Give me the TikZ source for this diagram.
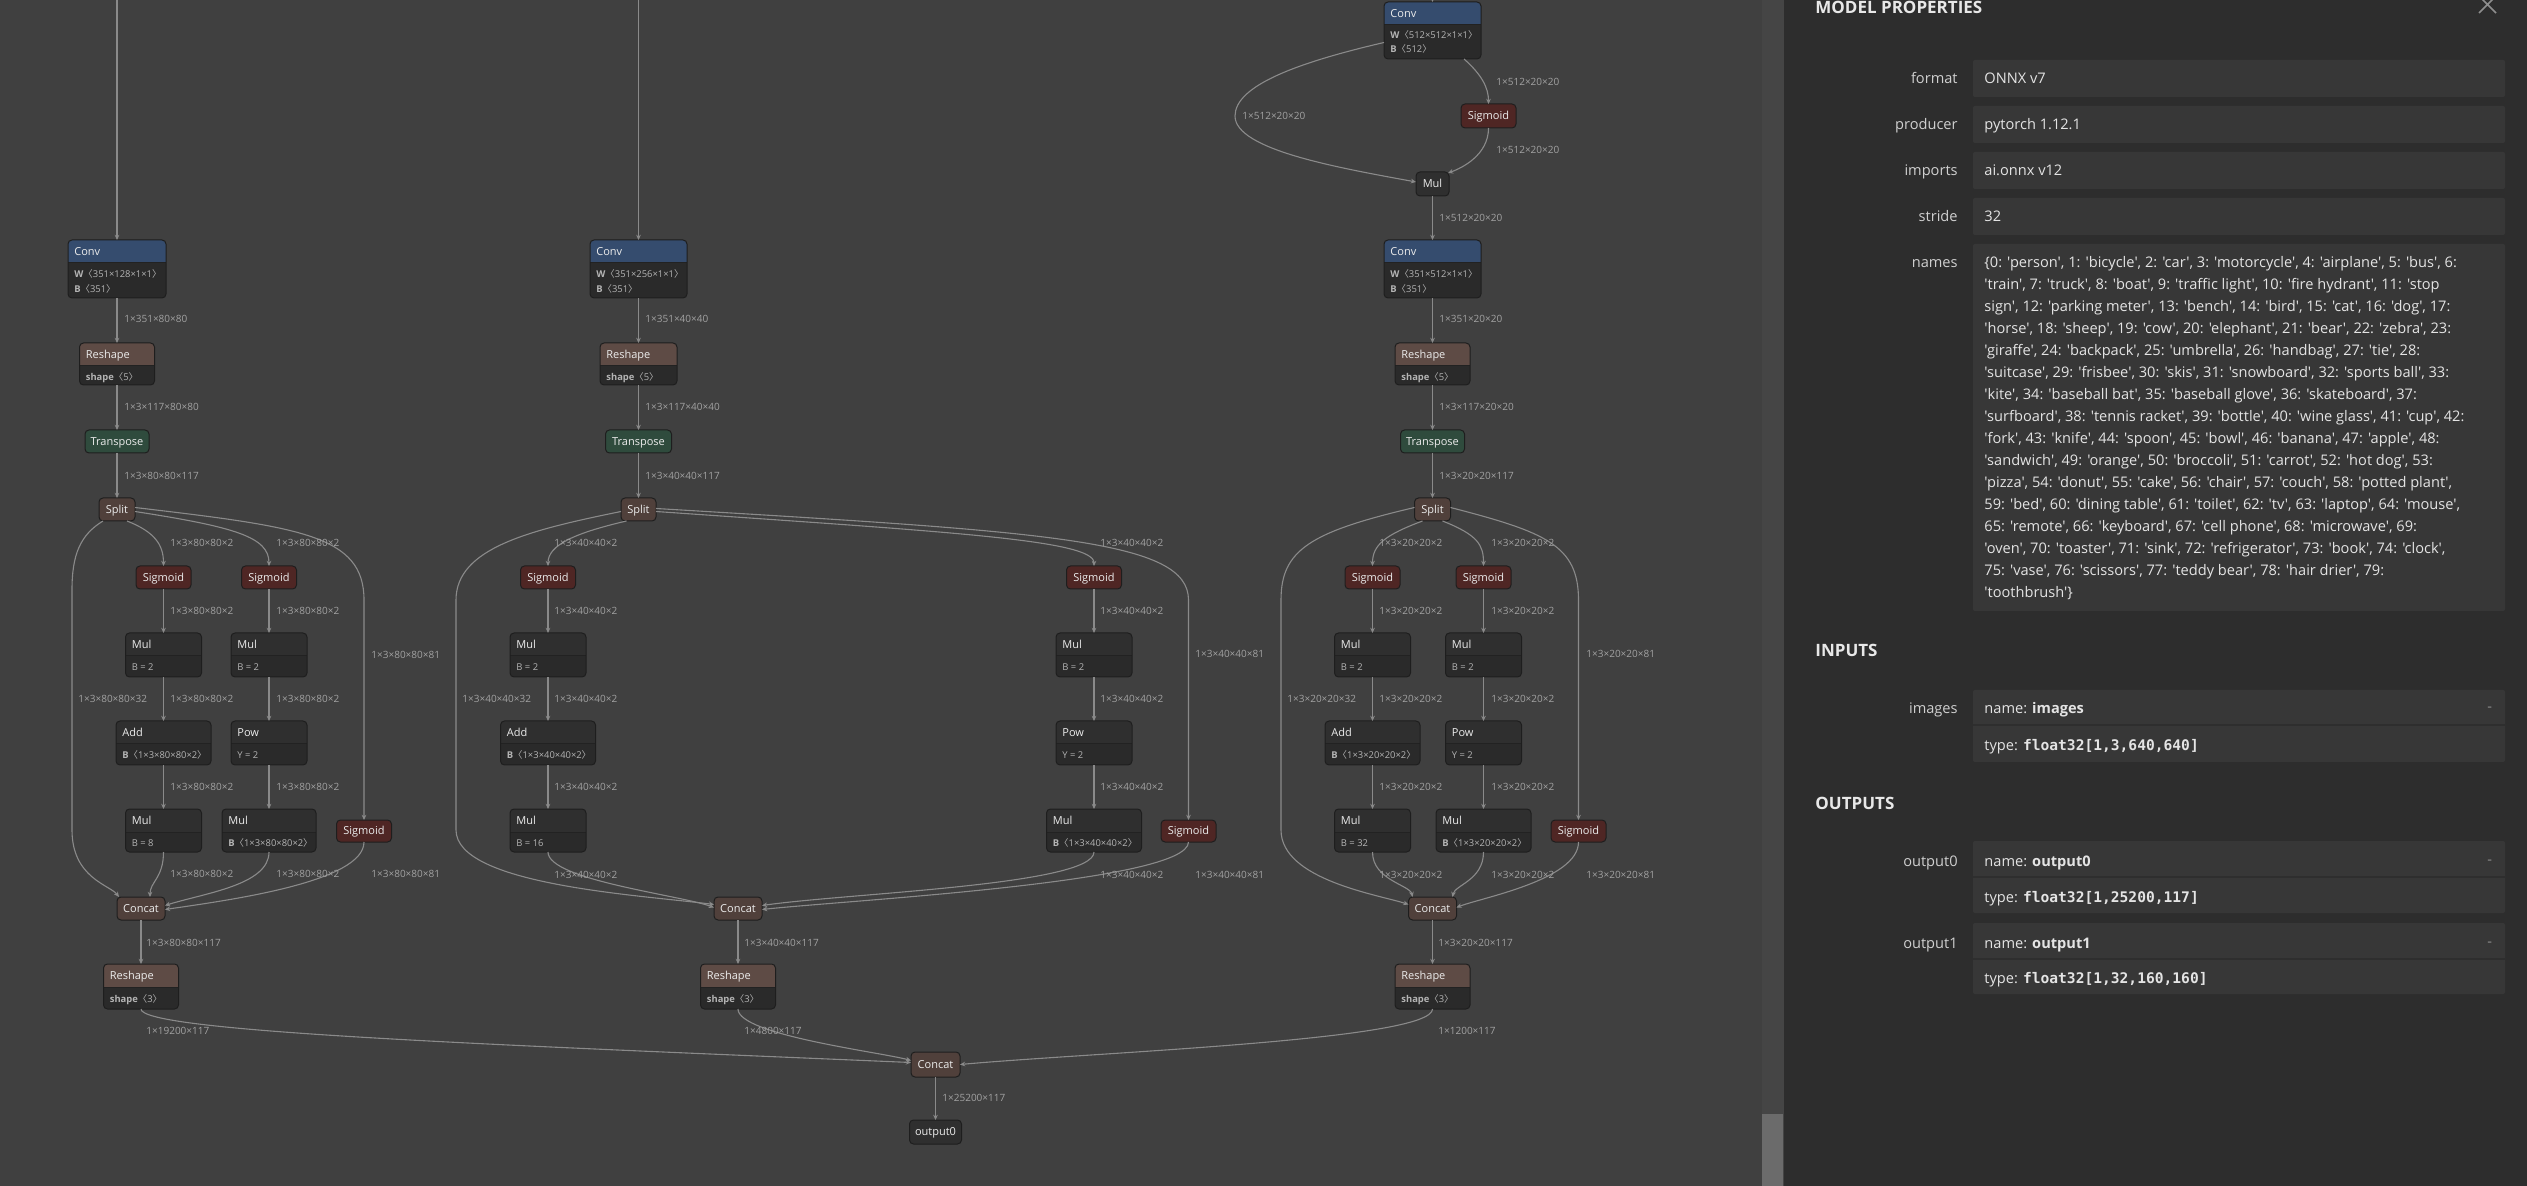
\documentclass[tikz,border=0pt]{standalone}
\usepackage{fontspec}
\setmainfont{Open Sans}[Ligatures=TeXOff]
\newfontfamily\cjkf{Noto Sans CJK SC}
\newfontfamily\monof{DejaVu Sans Mono}
\usetikzlibrary{arrows.meta,calc}

\definecolor{graphbg}{HTML}{404040}
\definecolor{trackc}{HTML}{454545}
\definecolor{thumbc}{HTML}{6B6B6B}
\definecolor{panelbg}{HTML}{2D2D2D}
\definecolor{boxc}{HTML}{373737}
\definecolor{boxdiv}{HTML}{2E2E2E}
\definecolor{edgec}{HTML}{8A8A8A}
\definecolor{lblc}{HTML}{A2A2A2}
\definecolor{nodeborder}{HTML}{1E1E1E}
\definecolor{bodyc}{HTML}{2A2A2A}
\definecolor{mulhdr}{HTML}{2F2F2F}
\definecolor{divc}{HTML}{222222}
\definecolor{convc}{HTML}{354C6E}
\definecolor{reshc}{HTML}{5E4B45}
\definecolor{splitc}{HTML}{50403B}
\definecolor{sigc}{HTML}{4F2624}
\definecolor{transc}{HTML}{2F4B3D}
\definecolor{titlec}{HTML}{ECECEC}
\definecolor{attrc}{HTML}{B4B4B4}
\definecolor{plabelc}{HTML}{D0D0D0}
\definecolor{pvalc}{HTML}{E4E4E4}
\definecolor{pheadc}{HTML}{E8E8E8}
\definecolor{closec}{HTML}{8E8E8E}

\newcommand{\angl}{{\cjkf 〈}}
\newcommand{\angr}{{\cjkf 〉}}
\newcommand{\ttfnt}{\fontsize{5.5}{6.5}\selectfont}
\newcommand{\atfnt}{\fontsize{4.7}{7.5}\selectfont}
\newcommand{\elfnt}{\fontsize{5}{6}\selectfont}
\newcommand{\pfnt}{\fontsize{7.3}{11}\selectfont}
\newcommand{\phfnt}{\fontsize{8.5}{10}\selectfont\bfseries}

\tikzset{
  edge/.style={draw=edgec, line width=0.55pt, -{Stealth[length=2.6pt,width=2.3pt]}},
  opbox/.style={inner sep=0pt, outer sep=0pt},
  snode/.style={draw=nodeborder, line width=0.5pt, rounded corners=2pt, inner sep=0pt, outer sep=0pt, text=titlec, font=\ttfnt, text height=3.9pt, text depth=0pt},
  ttext/.style={inner sep=0pt, text=titlec, font=\ttfnt, text height=3.9pt, text depth=0pt},
  atext/.style={anchor=west, inner sep=0pt, text=attrc, font=\atfnt, text height=3.4pt, text depth=0pt},
  elabel/.style={anchor=west, inner sep=0pt, text=lblc, font=\elfnt, text height=3.6pt, text depth=0pt},
  plab/.style={anchor=base east, inner sep=0pt, text=plabelc, font=\pfnt},
  pval/.style={anchor=base west, inner sep=0pt, text=pvalc, font=\pfnt},
  phead/.style={anchor=base west, inner sep=0pt, text=pheadc, font=\phfnt},
}

% name, cx, top, width, height, header colour, title, attr y offset, attr
\newcommand{\opnode}[9]{%
  \node[opbox, minimum width=#4*0.5pt, minimum height=#5*0.5pt, anchor=north] (#1) at (#2,#3) {};
  \begin{scope}
    \clip[rounded corners=2pt] (#1.south west) rectangle (#1.north east);
    \fill[bodyc] (#1.south west) rectangle (#1.north east);
    \fill[#6] (#1.north west) rectangle ($(#1.north east)+(0,23)$);
    \draw[divc, line width=0.5pt] ($(#1.north west)+(0,23)$) -- ($(#1.north east)+(0,23)$);
  \end{scope}
  \draw[nodeborder, line width=0.5pt, rounded corners=2pt] (#1.south west) rectangle (#1.north east);
  \node[ttext, anchor=west] (#1t) at ($(#1.north west)+(6,11.5)$) {#7};
  \node[atext] (#1a) at ($(#1.north west)+(6,#8)$) {#9};
}
% name, cx, top, width, height, colour, text
\newcommand{\snode}[7]{%
  \node[snode, fill=#6, minimum width=#4*0.5pt, minimum height=#5*0.5pt, anchor=north] (#1) at (#2,#3) {#7};
}
\newcounter{elc}
\newcommand{\elbl}[3]{\stepcounter{elc}\node[elabel] (el\theelc) at (#1,#2) {#3};}

\begin{document}
\begin{tikzpicture}[x=0.5pt, y=-0.5pt]
\useasboundingbox (0,0) rectangle (2527,1186);
\fill[graphbg] (0,0) rectangle (2527,1186);

% ================= column A (80x80) =================
\opnode{convA}{117}{240}{98}{58}{convc}{Conv}{34}{\textbf{W}\angl 351×128×1×1\angr}
\node[atext] (convAb) at ($(convA.north west)+(6,49)$) {\textbf{B}\angl 351\angr};
\opnode{rshA}{117}{343}{75}{42}{reshc}{Reshape}{34}{\textbf{shape}\angl 5\angr}
\snode{trA}{117}{430}{64}{23}{transc}{Transpose}
\snode{spA}{117}{498}{36}{23}{splitc}{Split}
\snode{sgA1}{163.5}{566}{55}{23}{sigc}{Sigmoid}
\snode{sgA2}{269}{566}{55}{23}{sigc}{Sigmoid}
\opnode{mulA1}{163.5}{633}{76}{44}{mulhdr}{Mul}{34}{B = 2}
\opnode{mulA2}{269}{633}{76}{44}{mulhdr}{Mul}{34}{B = 2}
\opnode{addA}{163.5}{721}{95}{44}{mulhdr}{Add}{34}{\textbf{B}\angl 1×3×80×80×2\angr}
\opnode{powA}{269}{721}{76}{44}{mulhdr}{Pow}{34}{Y = 2}
\opnode{mulA3}{163.5}{809}{76}{43}{mulhdr}{Mul}{34}{B = 8}
\opnode{mulA4}{269}{809}{94}{43}{mulhdr}{Mul}{34}{\textbf{B}\angl 1×3×80×80×2\angr}
\snode{sgA3}{364}{820}{55}{22}{sigc}{Sigmoid}
\snode{catA}{141}{897}{48}{23}{splitc}{Concat}
\opnode{rshA2}{141}{964}{75}{45}{reshc}{Reshape}{35}{\textbf{shape}\angl 3\angr}

% ================= column B (40x40) =================
\opnode{convB}{638.5}{240}{97}{58}{convc}{Conv}{34}{\textbf{W}\angl 351×256×1×1\angr}
\node[atext] (convBb) at ($(convB.north west)+(6,49)$) {\textbf{B}\angl 351\angr};
\opnode{rshB}{638.5}{343}{77}{42}{reshc}{Reshape}{34}{\textbf{shape}\angl 5\angr}
\snode{trB}{638.5}{430}{66}{23}{transc}{Transpose}
\snode{spB}{638.5}{498}{35}{23}{splitc}{Split}
\snode{sgB1}{548}{566}{55}{23}{sigc}{Sigmoid}
\snode{sgB2}{1094}{566}{55}{23}{sigc}{Sigmoid}
\opnode{mulB1}{548}{633}{76}{44}{mulhdr}{Mul}{34}{B = 2}
\opnode{mulB2}{1094}{633}{76}{44}{mulhdr}{Mul}{34}{B = 2}
\opnode{addB}{548}{721}{95}{44}{mulhdr}{Add}{34}{\textbf{B}\angl 1×3×40×40×2\angr}
\opnode{powB}{1094}{721}{76}{44}{mulhdr}{Pow}{34}{Y = 2}
\opnode{mulB3}{548}{809}{76}{43}{mulhdr}{Mul}{34}{B = 16}
\opnode{mulB4}{1094}{809}{95}{43}{mulhdr}{Mul}{34}{\textbf{B}\angl 1×3×40×40×2\angr}
\snode{sgB3}{1188.5}{820}{55}{22}{sigc}{Sigmoid}
\snode{catB}{738}{897}{48}{23}{splitc}{Concat}
\opnode{rshB2}{738}{964}{75}{45}{reshc}{Reshape}{35}{\textbf{shape}\angl 3\angr}

% ================= column C (20x20) =================
\opnode{convC0}{1432.5}{2}{97}{57}{convc}{Conv}{33}{\textbf{W}\angl 512×512×1×1\angr}
\node[atext] (convC0b) at ($(convC0.north west)+(6,47)$) {\textbf{B}\angl 512\angr};
\snode{sgC0}{1488.5}{104}{55}{24}{sigc}{Sigmoid}
\snode{mulC0}{1432.5}{172}{33}{24}{mulhdr}{Mul}
\opnode{convC}{1432.5}{240}{97}{58}{convc}{Conv}{34}{\textbf{W}\angl 351×512×1×1\angr}
\node[atext] (convCb) at ($(convC.north west)+(6,49)$) {\textbf{B}\angl 351\angr};
\opnode{rshC}{1432.5}{343}{75}{42}{reshc}{Reshape}{34}{\textbf{shape}\angl 5\angr}
\snode{trC}{1432.5}{430}{64}{23}{transc}{Transpose}
\snode{spC}{1432.5}{498}{36}{23}{splitc}{Split}
\snode{sgC1}{1372.5}{566}{55}{23}{sigc}{Sigmoid}
\snode{sgC2}{1483.5}{566}{55}{23}{sigc}{Sigmoid}
\opnode{mulC1}{1372.5}{633}{76}{44}{mulhdr}{Mul}{34}{B = 2}
\opnode{mulC2}{1483.5}{633}{76}{44}{mulhdr}{Mul}{34}{B = 2}
\opnode{addC}{1372.5}{721}{95}{44}{mulhdr}{Add}{34}{\textbf{B}\angl 1×3×20×20×2\angr}
\opnode{powC}{1483.5}{721}{76}{44}{mulhdr}{Pow}{34}{Y = 2}
\opnode{mulC3}{1372.5}{809}{76}{43}{mulhdr}{Mul}{34}{B = 32}
\opnode{mulC4}{1483.5}{809}{95}{43}{mulhdr}{Mul}{34}{\textbf{B}\angl 1×3×20×20×2\angr}
\snode{sgC3}{1578.5}{820}{55}{22}{sigc}{Sigmoid}
\snode{catC}{1432.5}{897}{48}{23}{splitc}{Concat}
\opnode{rshC2}{1432.5}{964}{75}{45}{reshc}{Reshape}{35}{\textbf{shape}\angl 3\angr}

% ================= final =================
\snode{fc}{935.5}{1052}{49}{25}{splitc}{Concat}
\snode{out0}{935.5}{1120}{52}{24}{mulhdr}{output0}

% ================= edges column A =================
\coordinate (topA) at (117,-6);
\draw[edge] (topA) -- (convA.north);
\draw[edge] (convA.south) -- (rshA.north);
\draw[edge] (rshA.south) -- (trA.north);
\draw[edge] (trA.south) -- (spA.north);
\draw[edge] ($(spA.south)+(10,0)$) .. controls (155,532) and (163.5,545) .. (sgA1.north);
\draw[edge] ($(spA.east)+(0,2)$) .. controls (235,527) and (269,537) .. (sgA2.north);
\draw[edge] ($(spA.east)+(0,-2)$) .. controls (300,527) and (364,535) .. (364,600) -- (sgA3.north);
\draw[edge] ($(spA.south west)+(4,0)$) .. controls (80,535) and (72,555) .. (72,590) -- (72,830) .. controls (72,878) and (110,885) .. ($(catA.north west)+(2,0)$);
\draw[edge] (sgA1.south) -- (mulA1.north);
\draw[edge] (mulA1.south) -- (addA.north);
\draw[edge] (addA.south) -- (mulA3.north);
\draw[edge] (sgA2.south) -- (mulA2.north);
\draw[edge] (mulA2.south) -- (powA.north);
\draw[edge] (powA.south) -- (mulA4.north);
\draw[edge] (mulA3.south) .. controls (163.5,878) and (150,882) .. ($(catA.north)+(9,0)$);
\draw[edge] (mulA4.south) .. controls (269,885) and (205,893) .. ($(catA.east)+(0,-3)$);
\draw[edge] (sgA3.south) .. controls (364,882) and (230,900) .. ($(catA.east)+(0,1)$);
\draw[edge] (catA.south) -- (rshA2.north);
\draw[edge] (rshA2.south) .. controls (141,1032) and (500,1045) .. ($(fc.west)+(0,-2)$);

% ================= edges column B =================
\coordinate (topB) at (638.5,-6);
\draw[edge] (topB) -- (convB.north);
\draw[edge] (convB.south) -- (rshB.north);
\draw[edge] (rshB.south) -- (trB.north);
\draw[edge] (trB.south) -- (spB.north);
\draw[edge] ($(spB.south)+(-12,0)$) .. controls (575,533) and (548,545) .. (sgB1.north);
\draw[edge] ($(spB.east)+(0,2)$) .. controls (950,532) and (1094,540) .. (sgB2.north);
\draw[edge] ($(spB.east)+(0,-1)$) .. controls (1050,532) and (1188.5,540) .. (1188.5,600) -- (sgB3.north);
\draw[edge] ($(spB.west)+(0,2)$) .. controls (530,530) and (456,548) .. (456,600) -- (456,830) .. controls (456,885) and (640,895) .. ($(catB.west)+(0,-4)$);
\draw[edge] (sgB1.south) -- (mulB1.north);
\draw[edge] (mulB1.south) -- (addB.north);
\draw[edge] (addB.south) -- (mulB3.north);
\draw[edge] (sgB2.south) -- (mulB2.north);
\draw[edge] (mulB2.south) -- (powB.north);
\draw[edge] (powB.south) -- (mulB4.north);
\draw[edge] (mulB3.south) .. controls (548,880) and (680,895) .. ($(catB.west)+(0,-1)$);
\draw[edge] (mulB4.south) .. controls (1094,885) and (850,893) .. ($(catB.east)+(0,-3)$);
\draw[edge] (sgB3.south) .. controls (1188.5,882) and (850,900) .. ($(catB.east)+(0,1)$);
\draw[edge] (catB.south) -- (rshB2.north);
\draw[edge] (rshB2.south) .. controls (738,1035) and (880,1052) .. ($(fc.west)+(0,-4)$);

% ================= edges column C =================
\coordinate (topC) at (1432.5,-8);
\draw[edge] (topC) -- (convC0.north);
\draw[edge] ($(convC0.south east)+(-17,0)$) .. controls (1482,75) and (1488.5,88) .. (sgC0.north);
\draw[edge] ($(convC0.west)+(0,12)$) .. controls (1300,62) and (1235,85) .. (1235,116) .. controls (1235,150) and (1340,168) .. ($(mulC0.west)+(0,-2)$);
\draw[edge] (sgC0.south) .. controls (1488.5,155) and (1462,168) .. ($(mulC0.north east)+(-1,1)$);
\draw[edge] (mulC0.south) -- (convC.north);
\draw[edge] (convC.south) -- (rshC.north);
\draw[edge] (rshC.south) -- (trC.north);
\draw[edge] (trC.south) -- (spC.north);
\draw[edge] ($(spC.south)+(-10,0)$) .. controls (1385,535) and (1372.5,545) .. (sgC1.north);
\draw[edge] ($(spC.south)+(10,0)$) .. controls (1478,535) and (1483.5,545) .. (sgC2.north);
\draw[edge] ($(spC.east)+(0,-2)$) .. controls (1545,532) and (1578.5,545) .. (1578.5,600) -- (sgC3.north);
\draw[edge] ($(spC.west)+(0,-2)$) .. controls (1310,532) and (1281,550) .. (1281,600) -- (1281,830) .. controls (1281,880) and (1380,895) .. ($(catC.west)+(0,-4)$);
\draw[edge] (sgC1.south) -- (mulC1.north);
\draw[edge] (mulC1.south) -- (addC.north);
\draw[edge] (addC.south) -- (mulC3.north);
\draw[edge] (sgC2.south) -- (mulC2.north);
\draw[edge] (mulC2.south) -- (powC.north);
\draw[edge] (powC.south) -- (mulC4.north);
\draw[edge] (mulC3.south) .. controls (1372.5,880) and (1410,885) .. ($(catC.north west)+(4,0)$);
\draw[edge] (mulC4.south) .. controls (1483.5,880) and (1455,885) .. ($(catC.north east)+(-4,0)$);
\draw[edge] (sgC3.south) .. controls (1578.5,880) and (1480,898) .. ($(catC.east)+(0,-1)$);
\draw[edge] (catC.south) -- (rshC2.north);
\draw[edge] (rshC2.south) .. controls (1432.5,1040) and (1100,1052) .. (fc.east);
\draw[edge] (fc.south) -- (out0.north);

% ================= edge labels =================
\elbl{124}{319}{1×351×80×80}
\elbl{124}{407}{1×3×117×80×80}
\elbl{124}{476}{1×3×80×80×117}
\elbl{170}{543}{1×3×80×80×2}
\elbl{276}{543}{1×3×80×80×2}
\elbl{170}{611}{1×3×80×80×2}
\elbl{276}{611}{1×3×80×80×2}
\elbl{371}{655}{1×3×80×80×81}
\elbl{78}{699}{1×3×80×80×32}
\elbl{170}{699}{1×3×80×80×2}
\elbl{276}{699}{1×3×80×80×2}
\elbl{170}{787}{1×3×80×80×2}
\elbl{276}{787}{1×3×80×80×2}
\elbl{170}{874}{1×3×80×80×2}
\elbl{276}{874}{1×3×80×80×2}
\elbl{371}{874}{1×3×80×80×81}
\elbl{146}{943}{1×3×80×80×117}
\elbl{146}{1031}{1×19200×117}

\elbl{645}{319}{1×351×40×40}
\elbl{645}{407}{1×3×117×40×40}
\elbl{645}{476}{1×3×40×40×117}
\elbl{554}{543}{1×3×40×40×2}
\elbl{1100}{543}{1×3×40×40×2}
\elbl{554}{611}{1×3×40×40×2}
\elbl{1100}{611}{1×3×40×40×2}
\elbl{1195}{654}{1×3×40×40×81}
\elbl{462}{699}{1×3×40×40×32}
\elbl{554}{699}{1×3×40×40×2}
\elbl{1100}{699}{1×3×40×40×2}
\elbl{554}{787}{1×3×40×40×2}
\elbl{1100}{787}{1×3×40×40×2}
\elbl{554}{875}{1×3×40×40×2}
\elbl{1100}{875}{1×3×40×40×2}
\elbl{1195}{875}{1×3×40×40×81}
\elbl{744}{943}{1×3×40×40×117}
\elbl{744}{1031}{1×4800×117}

\elbl{1496}{82}{1×512×20×20}
\elbl{1242}{116}{1×512×20×20}
\elbl{1496}{150}{1×512×20×20}
\elbl{1439}{218}{1×512×20×20}
\elbl{1439}{319}{1×351×20×20}
\elbl{1439}{407}{1×3×117×20×20}
\elbl{1439}{476}{1×3×20×20×117}
\elbl{1379}{543}{1×3×20×20×2}
\elbl{1491}{543}{1×3×20×20×2}
\elbl{1379}{611}{1×3×20×20×2}
\elbl{1491}{611}{1×3×20×20×2}
\elbl{1586}{654}{1×3×20×20×81}
\elbl{1287}{699}{1×3×20×20×32}
\elbl{1379}{699}{1×3×20×20×2}
\elbl{1491}{699}{1×3×20×20×2}
\elbl{1379}{787}{1×3×20×20×2}
\elbl{1491}{787}{1×3×20×20×2}
\elbl{1379}{875}{1×3×20×20×2}
\elbl{1491}{875}{1×3×20×20×2}
\elbl{1586}{875}{1×3×20×20×81}
\elbl{1438}{943}{1×3×20×20×117}
\elbl{1438}{1031}{1×1200×117}
\elbl{942}{1098}{1×25200×117}

% ================= properties panel =================
\fill[trackc] (1762,0) rectangle (1784,1186);
\fill[thumbc] (1762,1114) rectangle (1783,1186);
\fill[panelbg] (1784,0) rectangle (2527,1186);
\draw[closec, line width=0.8pt] (2479,-4) -- (2496,13) (2496,-4) -- (2479,13);

\node[phead] (hmp) at (1815,14) {MODEL PROPERTIES};
\fill[boxc, rounded corners=1pt] (1973,60) rectangle (2505,97);
\fill[boxc, rounded corners=1pt] (1973,106) rectangle (2505,143);
\fill[boxc, rounded corners=1pt] (1973,152) rectangle (2505,189);
\fill[boxc, rounded corners=1pt] (1973,198) rectangle (2505,235);
\fill[boxc, rounded corners=1pt] (1973,244) rectangle (2505,611);
\node[plab] (plf) at (1958,84) {format};
\node[pval] (pvf) at (1984,84) {ONNX v7};
\node[plab] (plp) at (1958,130) {producer};
\node[pval] (pvp) at (1984,130) {pytorch 1.12.1};
\node[plab] (pli) at (1958,176) {imports};
\node[pval] (pvi) at (1984,176) {ai.onnx v12};
\node[plab] (pls) at (1958,222) {stride};
\node[pval] (pvs) at (1984,222) {32};
\node[plab] (pln) at (1958,268) {names};
\foreach \ln [count=\i] in {%
 {\{0: 'person', 1: 'bicycle', 2: 'car', 3: 'motorcycle', 4: 'airplane', 5: 'bus', 6:},
 {'train', 7: 'truck', 8: 'boat', 9: 'traffic light', 10: 'fire hydrant', 11: 'stop},
 {sign', 12: 'parking meter', 13: 'bench', 14: 'bird', 15: 'cat', 16: 'dog', 17:},
 {'horse', 18: 'sheep', 19: 'cow', 20: 'elephant', 21: 'bear', 22: 'zebra', 23:},
 {'giraffe', 24: 'backpack', 25: 'umbrella', 26: 'handbag', 27: 'tie', 28:},
 {'suitcase', 29: 'frisbee', 30: 'skis', 31: 'snowboard', 32: 'sports ball', 33:},
 {'kite', 34: 'baseball bat', 35: 'baseball glove', 36: 'skateboard', 37:},
 {'surfboard', 38: 'tennis racket', 39: 'bottle', 40: 'wine glass', 41: 'cup', 42:},
 {'fork', 43: 'knife', 44: 'spoon', 45: 'bowl', 46: 'banana', 47: 'apple', 48:},
 {'sandwich', 49: 'orange', 50: 'broccoli', 51: 'carrot', 52: 'hot dog', 53:},
 {'pizza', 54: 'donut', 55: 'cake', 56: 'chair', 57: 'couch', 58: 'potted plant',},
 {59: 'bed', 60: 'dining table', 61: 'toilet', 62: 'tv', 63: 'laptop', 64: 'mouse',},
 {65: 'remote', 66: 'keyboard', 67: 'cell phone', 68: 'microwave', 69:},
 {'oven', 70: 'toaster', 71: 'sink', 72: 'refrigerator', 73: 'book', 74: 'clock',},
 {75: 'vase', 76: 'scissors', 77: 'teddy bear', 78: 'hair drier', 79:},
 {'toothbrush'\}}%
}{\node[pval] (nm\i) at (1984,246+22*\i) {\ln};}

\node[phead] (hin) at (1815,657) {INPUTS};
\fill[boxc, rounded corners=1pt] (1973,690) rectangle (2505,762);
\draw[boxdiv, line width=0.6pt] (1973,725) -- (2505,725);
\node[plab] (plim) at (1958,714) {images};
\node[pval] (pvin) at (1984,714) {name: \textbf{images}};
\node[pval] (pvit) at (1984,751) {type: {\monof\bfseries float32[1,3,640,640]}};
\node[pval, text=closec] (pvid) at (2487,712) {-};

\node[phead] (hout) at (1815,809) {OUTPUTS};
\fill[boxc, rounded corners=1pt] (1973,841) rectangle (2505,913);
\draw[boxdiv, line width=0.6pt] (1973,877) -- (2505,877);
\node[plab] (plo0) at (1958,866) {output0};
\node[pval] (pvo0n) at (1984,866) {name: \textbf{output0}};
\node[pval] (pvo0t) at (1984,902) {type: {\monof\bfseries float32[1,25200,117]}};
\node[pval, text=closec] (pvo0d) at (2487,864) {-};

\fill[boxc, rounded corners=1pt] (1973,923) rectangle (2505,994);
\draw[boxdiv, line width=0.6pt] (1973,959) -- (2505,959);
\node[plab] (plo1) at (1958,948) {output1};
\node[pval] (pvo1n) at (1984,948) {name: \textbf{output1}};
\node[pval] (pvo1t) at (1984,983) {type: {\monof\bfseries float32[1,32,160,160]}};
\node[pval, text=closec] (pvo1d) at (2487,946) {-};
\end{tikzpicture}
\end{document}
